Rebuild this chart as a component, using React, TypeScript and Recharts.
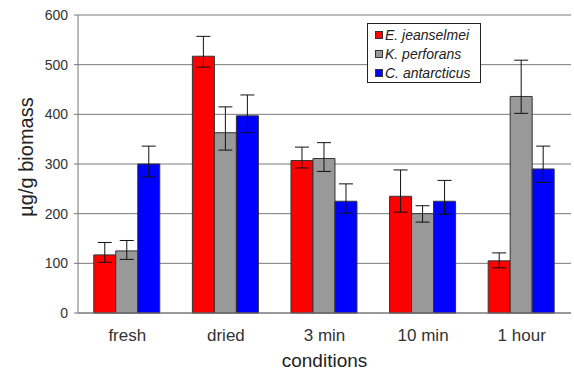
import React from 'react';
import { BarChart, Bar, XAxis, YAxis, CartesianGrid, ErrorBar } from 'recharts';

const categories = ['fresh', 'dried', '3 min', '10 min', '1 hour'];
const seriesNames = ['E. jeanselmei', 'K. perforans', 'C. antarcticus'];
const seriesColors = ['#ff0000', '#999999', '#0000ff'];

const jeanselmei = [117, 517, 307, 235, 105];
const jeanselmeiErr: [number, number][] = [[15, 25], [22, 40], [15, 27], [32, 53], [14, 16]];
const perforans = [125, 363, 311, 200, 436];
const perforansErr: [number, number][] = [[17, 21], [35, 52], [26, 32], [17, 16], [34, 73]];
const antarcticus = [300, 397, 225, 225, 290];
const antarcticusErr: [number, number][] = [[26, 36], [34, 42], [24, 35], [26, 42], [27, 46]];

const yTicks = [0, 100, 200, 300, 400, 500, 600];
const boundaryTicks = [0, 1, 2, 3, 4, 5];

const data = categories.map((c, i) => ({
  name: c,
  s0: jeanselmei[i],
  e0: jeanselmeiErr[i],
  s1: perforans[i],
  e1: perforansErr[i],
  s2: antarcticus[i],
  e2: antarcticusErr[i],
}));

const FONT = '"Liberation Sans", Arial, sans-serif';

const LegendBox = () => (
  <div
    style={{
      position: 'absolute',
      left: 367,
      top: 23,
      width: 112,
      height: 58,
      border: '1px solid #222',
      background: '#fff',
      fontFamily: FONT,
      fontSize: 14,
      fontStyle: 'italic',
      color: '#222',
      boxSizing: 'content-box',
    }}
  >
    {seriesNames.map((n, i) => (
      <div key={n} style={{ display: 'flex', alignItems: 'center', height: 19, marginTop: i === 0 ? 1 : 0 }}>
        <span
          style={{
            display: 'inline-block',
            width: 6,
            height: 6,
            background: seriesColors[i],
            border: '1px solid #333',
            marginLeft: 7,
            marginRight: 2,
          }}
        />
        <span>{n}</span>
      </div>
    ))}
  </div>
);

const YLabel = (props: any) => {
  const vb = props.viewBox || { x: 0, y: 15, width: 78, height: 298 };
  const cx = vb.x + 33;
  const cy = vb.y + vb.height / 2 - 7;
  return (
    <text
      x={cx}
      y={cy}
      transform={`rotate(-90, ${cx}, ${cy})`}
      textAnchor="middle"
      fill="#222"
      fontSize={20}
      fontFamily={FONT}
    >
      µg/g biomass
    </text>
  );
};

export default function App() {
  return (
    <div style={{ position: 'absolute', left: 0, top: 0, width: 574, height: 373, background: '#fff' }}>
      <BarChart
        width={574}
        height={373}
        data={data}
        margin={{ top: 15, right: 3, left: 0, bottom: 0 }}
        barCategoryGap="16%"
        barGap={0}
      >
        <CartesianGrid vertical={false} stroke="#7a7a7a" strokeWidth={1} />
        <XAxis
          xAxisId="b"
          type="number"
          dataKey="none"
          domain={[0, 5]}
          ticks={boundaryTicks}
          height={0}
          tick={false}
          tickSize={4}
          tickLine={{ stroke: '#555' }}
          axisLine={false}
          allowDataOverflow
        />
        <XAxis
          dataKey="name"
          height={60}
          tickLine={false}
          axisLine={{ stroke: '#777' }}
          tick={{ fill: '#333', fontSize: 17, fontFamily: FONT }}
          tickMargin={10}
          interval={0}
          label={{ value: 'conditions', position: 'insideBottom', offset: 6, fill: '#222', fontSize: 19, fontFamily: FONT }}
        />
        <YAxis
          width={78}
          domain={[0, 600]}
          ticks={yTicks}
          tickSize={4}
          tickMargin={6}
          tickLine={{ stroke: '#777' }}
          axisLine={{ stroke: '#777' }}
          tick={{ fill: '#333', fontSize: 14, fontFamily: FONT }}
          label={<YLabel />}
        />
        {[0, 1, 2].map((i) => (
          <Bar
            key={i}
            dataKey={`s${i}`}
            name={seriesNames[i]}
            fill={seriesColors[i]}
            stroke="#333"
            strokeWidth={1}
            isAnimationActive={false}
          >
            <ErrorBar dataKey={`e${i}`} width={7} stroke="#111" strokeWidth={1} />
          </Bar>
        ))}
      </BarChart>
      <LegendBox />
    </div>
  );
}
